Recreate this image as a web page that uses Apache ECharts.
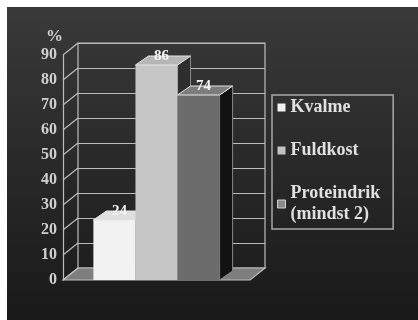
<!DOCTYPE html>
<html><head><meta charset="utf-8">
<script src="https://cdn.jsdelivr.net/npm/echarts@6/dist/echarts.min.js"></script>
<style>html,body{margin:0;padding:0;background:#fff}#c{width:418px;height:320px}</style>
</head><body><div id="c"></div>
<script>
const categories = [''];
const seriesNames = ['Kvalme', 'Fuldkost', 'Proteindrik (mindst 2)'];
const seriesValues = [24, 86, 74];
const yTicks = [0, 10, 20, 30, 40, 50, 60, 70, 80, 90];

const faceColors = [
  {front: '#f2f2f2', top: '#dedede', side: '#9a9a9a', legend: '#f2f2f2'},
  {front: '#c6c6c6', top: '#b6b6b6', side: '#2e2e2e', legend: '#c2c2c2'},
  {front: '#6c6c6c', top: '#7c7c7c', side: '#121212', legend: '#8a8a8a'}
];
const DX = 13, DY = -9, WX = 15, WY = -12;
const LINE = '#bcbcbc';
const SERIF = '"Liberation Serif", "DejaVu Serif", serif';

const chart = echarts.init(document.getElementById('c'), null, {renderer: 'canvas'});

function barRender(params, api) {
  const i = api.value(2);
  const band = api.size([1, 0])[0];
  const bw = band * 0.225;
  const p0 = api.coord([api.value(0), 0]);
  const cx = p0[0], base = p0[1];
  const top = api.coord([api.value(0), api.value(1)])[1];
  const x0 = cx - 1.5 * bw + i * bw, x1 = x0 + bw;
  const c = faceColors[i];
  return {type: 'group', children: [
    {type: 'polygon', shape: {points: [[x1, top], [x1 + DX, top + DY], [x1 + DX, base + DY], [x1, base]]},
      style: {fill: c.side, stroke: '#8a8a8a', lineWidth: 1}},
    {type: 'rect', shape: {x: x0, y: top, width: bw, height: base - top}, style: {fill: c.front}},
    {type: 'polygon', shape: {points: [[x0, top], [x0 + DX, top + DY], [x1 + DX, top + DY], [x1, top]]},
      style: {fill: c.top, stroke: '#e6e6e6', lineWidth: 1}},
    {type: 'text', style: {text: String(api.value(1)), x: x0 + bw / 2 + 5, y: top - 9,
      align: 'center', verticalAlign: 'middle', fill: '#f4f4f4', font: 'bold 15px ' + SERIF}}
  ]};
}

function wallRender(params, api) {
  const cs = params.coordSys;
  const y = api.coord([api.value(0), api.value(1)])[1];
  const children = [];
  if (api.value(1) === yTicks[0]) {
    children.push({type: 'polygon', shape: {points: [[cs.x, y], [cs.x + cs.width, y], [cs.x + cs.width + WX, y + WY], [cs.x + WX, y + WY]]},
      style: {fill: '#7e7e7e', stroke: LINE, lineWidth: 1.2}});
  }
  children.push({type: 'line', shape: {x1: cs.x, y1: y, x2: cs.x + WX, y2: y + WY}, style: {stroke: LINE, lineWidth: 1.2}});
  return {type: 'group', children: children};
}

const series = [{
  type: 'custom', name: '_wall', xAxisIndex: 1, yAxisIndex: 1, z: 1, silent: true,
  renderItem: wallRender, data: yTicks.map(t => [0, t])
}];
seriesNames.forEach((n, i) => {
  series.push({
    type: 'custom', name: n, xAxisIndex: 1, yAxisIndex: 1, z: 3 + i,
    itemStyle: {color: faceColors[i].front},
    renderItem: barRender, data: [[0, seriesValues[i], i]]
  });
});

chart.setOption({
  backgroundColor: {type: 'linear', x: 0, y: 0, x2: 0, y2: 1,
    colorStops: [{offset: 0, color: '#3a3a3a'}, {offset: 1, color: '#191919'}]},
  animation: false,
  graphic: [
    {type: 'rect', left: 0, top: 0, shape: {width: 418, height: 7}, style: {fill: '#ffffff'}, z: 100},
    {type: 'rect', left: 0, top: 0, shape: {width: 7, height: 320}, style: {fill: '#ffffff'}, z: 100}
  ],
  grid: [
    {left: 78, top: 43, width: 187, height: 225, show: true, borderColor: LINE, borderWidth: 1.2, backgroundColor: 'transparent'},
    {left: 63, top: 55, width: 187, height: 225}
  ],
  xAxis: [
    {type: 'category', gridIndex: 0, data: categories, show: false},
    {type: 'category', gridIndex: 1, data: categories, show: false}
  ],
  yAxis: [
    {type: 'value', gridIndex: 0, min: 0, max: 90, interval: 10,
      axisLine: {show: false}, axisTick: {show: false}, axisLabel: {show: false},
      splitLine: {show: true, lineStyle: {color: LINE, width: 1.2}}},
    {type: 'value', gridIndex: 1, min: 0, max: 90, interval: 10,
      name: '%', nameLocation: 'end', nameGap: 10,
      nameTextStyle: {color: '#d0d0d0', fontFamily: SERIF, fontSize: 17, fontWeight: 'bold', align: 'right'},
      axisLine: {show: true, lineStyle: {color: LINE, width: 1.2}}, axisTick: {show: false},
      splitLine: {show: false},
      axisLabel: {color: '#d0d0d0', fontFamily: SERIF, fontSize: 16, fontWeight: 'bold', margin: 6}}
  ],
  legend: {
    orient: 'vertical', left: 272, top: 95,
    data: seriesNames.map((n, i) => ({name: n, icon: 'rect',
      itemStyle: i === 2 ? {color: faceColors[i].legend, borderColor: '#d0d0d0', borderWidth: 1} : {color: faceColors[i].legend}})),
    itemWidth: 8, itemHeight: 8, itemGap: 22,
    padding: [2, 13, 4, 5],
    borderColor: '#a8a8a8', borderWidth: 1.5,
    formatter: n => n.replace(' (', '\n('),
    textStyle: {color: '#e0e0e0', fontFamily: SERIF, fontSize: 18, fontWeight: 'bold', lineHeight: 21},
    selectedMode: false
  },
  series: series
});
</script></body></html>
